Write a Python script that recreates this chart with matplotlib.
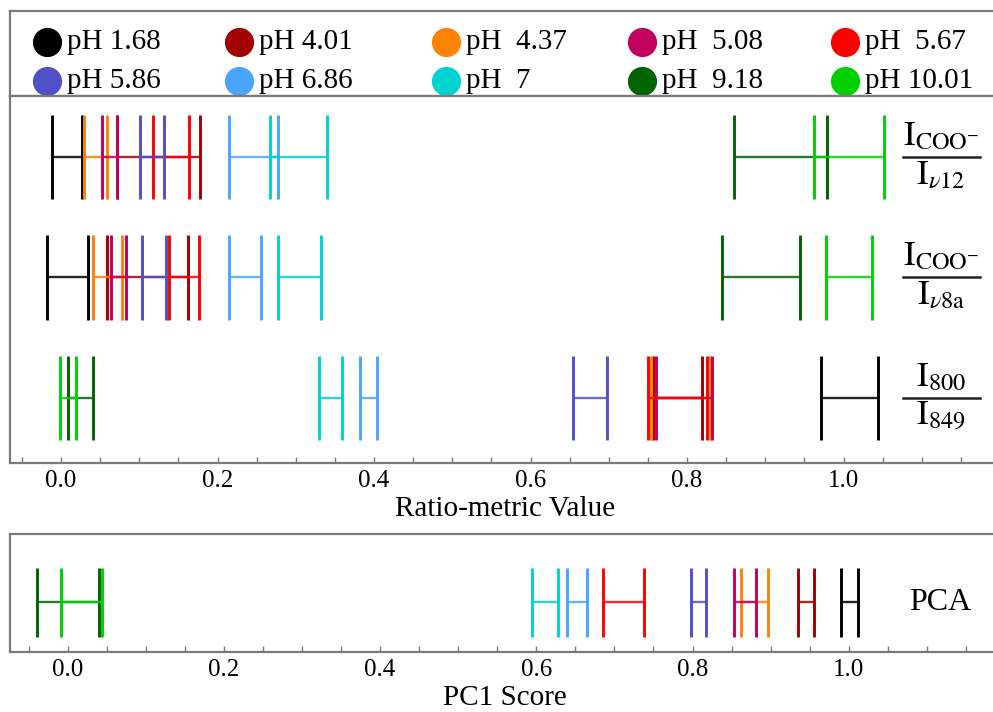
import numpy as np
import matplotlib.pyplot as plt
from matplotlib.lines import Line2D
from matplotlib.ticker import MultipleLocator, FixedLocator

plt.rcParams['font.family'] = ['Liberation Serif', 'DejaVu Serif']
plt.rcParams['mathtext.fontset'] = 'stix'

# pH groups and colours
ph_labels = ['pH 1.68', 'pH 4.01', 'pH  4.37', 'pH  5.08', 'pH  5.67',
             'pH 5.86', 'pH 6.86', 'pH  7', 'pH  9.18', 'pH 10.01']
colors = ['#000000', '#a30000', '#ff8205', '#c2005e', '#ff0000',
          '#5050c8', '#4aa5ff', '#00d2d2', '#006400', '#00d000']

# ratio ranges (low / high), same order as ph_labels
nu12_lo = [-0.012, 0.071, 0.029, 0.052, 0.117, 0.1005, 0.215, 0.267, 0.8605, 0.9627]
nu12_hi = [0.027, 0.178, 0.059, 0.071, 0.164, 0.131, 0.277, 0.3395, 0.9785, 1.052]

nu8a_lo = [-0.0175, 0.0584, 0.0413, 0.0635, 0.1384, 0.1035, 0.2147, 0.277, 0.8443, 0.977]
nu8a_hi = [0.034, 0.1627, 0.078, 0.083, 0.176, 0.1338, 0.2552, 0.332, 0.9444, 1.0368]

r800_lo = [0.971, 0.757, 0.754, 0.760, 0.7505, 0.654, 0.382, 0.330, 0.0094, -0.0013]
r800_hi = [1.0445, 0.819, 0.8295, 0.832, 0.826, 0.698, 0.4035, 0.359, 0.0413, 0.0188]

pca_lo = [0.9897, 0.9355, 0.8617, 0.8535, 0.6858, 0.798, 0.6389, 0.595, -0.0397, -0.0086]
pca_hi = [1.0115, 0.956, 0.897, 0.8809, 0.7379, 0.8169, 0.6653, 0.628, 0.0405, 0.0435]

major_ticks = [0.0, 0.2, 0.4, 0.6, 0.8, 1.0]

W, H = 993, 712
fig = plt.figure(figsize=(W / 100, H / 100), dpi=100)


def box(x0, y0, x1, y1):
    # pixel box (top-left origin) -> figure rect
    return [x0 / W, 1 - y1 / H, (x1 - x0) / W, (y1 - y0) / H]


def px(x, y):
    return x / W, 1 - y / H


frame_col = '#7a7a7a'

ax_leg = fig.add_axes(box(10, 11, 1000, 96))
ax_top = fig.add_axes(box(10, 96, 1000, 463))
ax_pca = fig.add_axes(box(10, 534, 1000, 652))

for ax in (ax_leg, ax_top, ax_pca):
    for s in ax.spines.values():
        s.set_color(frame_col)
        s.set_linewidth(1.6)
    ax.spines['right'].set_visible(False)

# legend box
ax_leg.set_xlim(10, 1000)
ax_leg.set_ylim(96, 11)
ax_leg.set_xticks([])
ax_leg.set_yticks([])
leg_x = [47, 239, 446, 642, 845]
leg_y = [42, 81]
for i, (lab, c) in enumerate(zip(ph_labels, colors)):
    cx, cy = leg_x[i % 5], leg_y[i // 5]
    ax_leg.plot(cx, cy, 'o', ms=20, color=c, mec=c)
    ax_leg.text(cx + 20, cy, lab, fontsize=21, va='center', ha='left')


def draw_bars(ax, y, lo, hi, half):
    for l, h, c in zip(lo, hi, colors):
        ax.hlines(y, l, h, color=c, lw=1.7, alpha=0.85)
        ax.vlines([l, h], y - half, y + half, color=c, lw=2.1)


# ratio-metric panel
ax_top.set_xlim(-0.0652, 1.2)
ax_top.set_ylim(0.4606, 3.506)
draw_bars(ax_top, 3, nu12_lo, nu12_hi, 0.35)
draw_bars(ax_top, 2, nu8a_lo, nu8a_hi, 0.35)
draw_bars(ax_top, 1, r800_lo, r800_hi, 0.35)
ax_top.set_xlabel('Ratio-metric Value', fontsize=21, labelpad=3)

# PCA panel
ax_pca.set_xlim(-0.0739, 1.1937)
ax_pca.set_ylim(0, 1)
draw_bars(ax_pca, 0.4195, pca_lo, pca_hi, 0.292)
ax_pca.set_xlabel('PC1 Score', fontsize=21, labelpad=3)

for ax in (ax_top, ax_pca):
    ax.set_yticks([])
    ax.xaxis.set_major_locator(FixedLocator(major_ticks))
    ax.xaxis.set_minor_locator(MultipleLocator(0.05))
    ax.tick_params(axis='x', which='both', direction='in', length=4,
                   width=1, color=frame_col, labelsize=18, pad=5)
    ax.set_xticklabels([f'{t:.1f}' for t in major_ticks])

# right-hand labels (fractions)
fractions = [
    (157, r'$\mathrm{I}_{\mathrm{COO}^{-}}$', r'$\mathrm{I}_{\nu\mathrm{12}}$'),
    (277, r'$\mathrm{I}_{\mathrm{COO}^{-}}$', r'$\mathrm{I}_{\nu\mathrm{8a}}$'),
    (398, r'$\mathrm{I}_{800}$', r'$\mathrm{I}_{849}$'),
]
for yb, num, den in fractions:
    x0, y0 = px(903, yb)
    x1, _ = px(980, yb)
    fig.add_artist(Line2D([x0, x1], [y0, y0], color='#222222', lw=1.8,
                          transform=fig.transFigure))
    fig.text(*px(941, yb - 4), num, fontsize=25, ha='center', va='bottom')
    fig.text(*px(941, yb + 2), den, fontsize=25, ha='center', va='top')

fig.text(*px(940, 603), 'PCA', fontsize=23, ha='center', va='center')

fig.savefig('out.png', dpi=100)
